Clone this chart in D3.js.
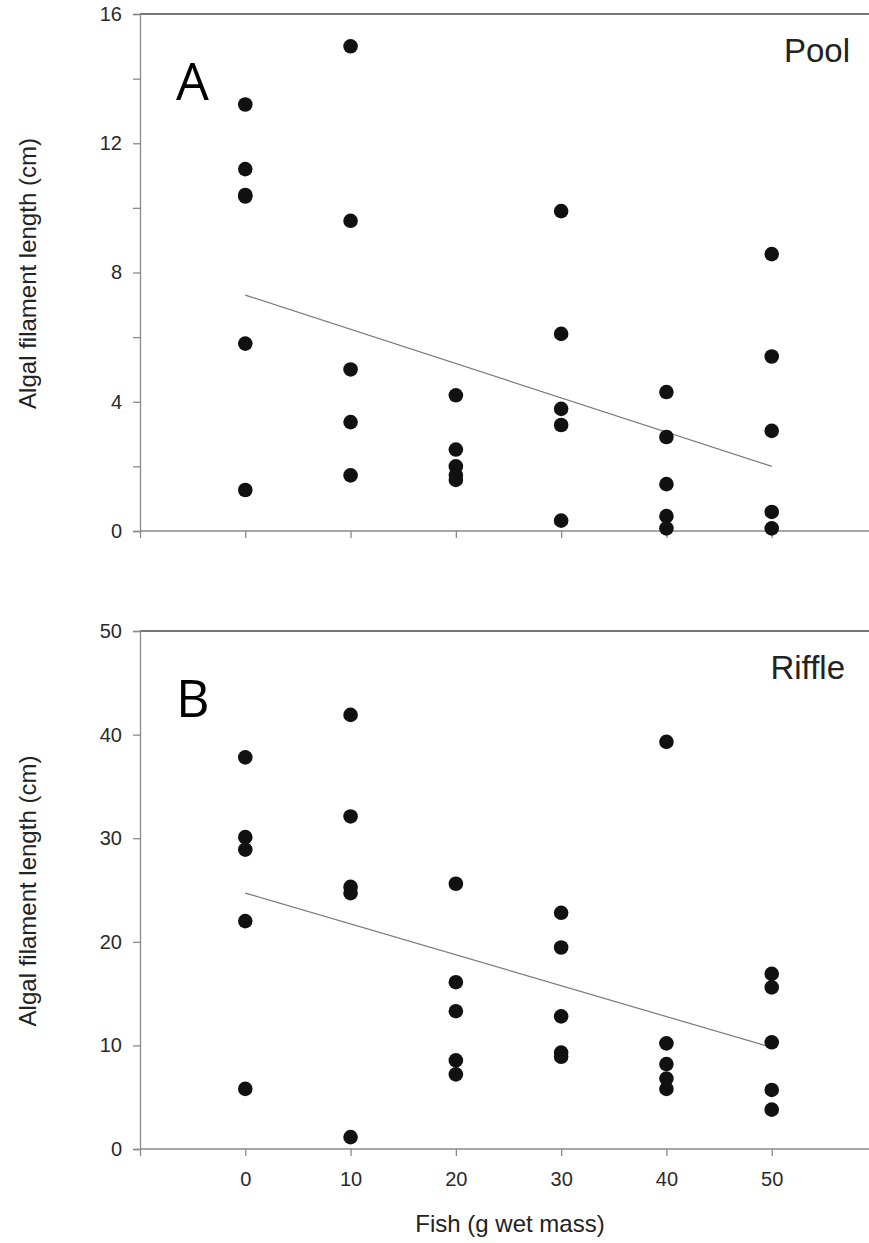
<!DOCTYPE html>
<html>
<head>
<meta charset="utf-8">
<script src="https://cdn.jsdelivr.net/npm/d3@7"></script>
<style>
    body { margin: 0; background: #fff; }
    svg { display: block; font-family: "Liberation Sans", Arial, sans-serif; }
</style>
</head>
<body>
<svg id="chart" width="869" height="1243"></svg>
<script>
let fishLevels = [0, 10, 20, 30, 40, 50];

// panel A, pool
let poolX = [0, 0, 0, 0, 0, 0,
    10, 10, 10, 10, 10,
    20, 20, 20, 20, 20,
    30, 30, 30, 30, 30,
    40, 40, 40, 40, 40,
    50, 50, 50, 50, 50];
let poolY = [13.2, 11.2, 10.4, 10.35, 5.8, 1.27,
    15.0, 9.6, 5.0, 3.37, 1.72,
    4.2, 2.52, 2.0, 1.73, 1.58,
    9.9, 6.1, 3.78, 3.28, 0.32,
    4.3, 2.91, 1.45, 0.46, 0.08,
    8.57, 5.4, 3.1, 0.59, 0.08];
let poolFit = [7.3, 2.0];

// panel B, riffle
let riffleX = [0, 0, 0, 0, 0,
    10, 10, 10, 10, 10,
    20, 20, 20, 20, 20,
    30, 30, 30, 30, 30,
    40, 40, 40, 40, 40,
    50, 50, 50, 50, 50];
let riffleY = [37.8, 30.1, 28.9, 22.0, 5.8,
    41.9, 32.1, 25.3, 24.7, 1.15,
    25.6, 16.1, 13.3, 8.55, 7.2,
    22.8, 19.45, 12.8, 9.3, 8.9,
    39.3, 10.2, 8.2, 6.8, 5.8,
    16.9, 15.6, 10.3, 5.7, 3.8];
let riffleFit = [24.7, 9.8];

let poolTicks = [0, 4, 8, 12, 16];
let poolMinor = [2, 6, 10, 14];
let riffleTicks = [0, 10, 20, 30, 40, 50];

let svg = d3.select('#chart');
let axisGrey = '#8a8a8a';
let x = d3.scaleLinear().domain([-10, 60]).range([140, 877]);

function panel(opts) {
    let y = d3.scaleLinear().domain(opts.domain).range([opts.bottom, opts.top]);
    let g = svg.append('g');

    // frame top
    g.append('line')
        .attr('x1', x(-10)).attr('x2', 869)
        .attr('y1', y(opts.domain[1])).attr('y2', y(opts.domain[1]))
        .attr('stroke', '#4a4a4a').attr('stroke-width', 1.3);

    let xAxis = g.append('g')
        .attr('transform', `translate(0,${opts.bottom})`)
        .call(d3.axisBottom(x).tickValues([-10].concat(fishLevels)).tickSize(7).tickPadding(16)
            .tickFormat(d => opts.xLabels && d >= 0 ? d : ''));
    xAxis.select('.domain').attr('d', `M${x(-10)},0H869`);

    let yAxis = g.append('g')
        .attr('transform', `translate(${x(-10)},0)`)
        .call(d3.axisLeft(y).tickValues(opts.ticks.concat(opts.minor)).tickSize(7).tickPadding(11)
            .tickFormat(d => opts.ticks.includes(d) ? d : ''));

    [xAxis, yAxis].forEach(a => {
        a.selectAll('.domain, line').attr('stroke', axisGrey).attr('stroke-width', 1.3);
        a.selectAll('text').attr('fill', '#2a2a2a').attr('font-size', 20)
            .attr('font-family', '"Liberation Sans", Arial, sans-serif');
    });

    g.append('line')
        .attr('x1', x(0)).attr('y1', y(opts.fit[0]))
        .attr('x2', x(50)).attr('y2', y(opts.fit[1]))
        .attr('stroke', '#7a7a7a').attr('stroke-width', 1.2);

    g.selectAll('circle')
        .data(opts.xs.map((v, i) => [v, opts.ys[i]]))
        .enter().append('circle')
        .attr('cx', d => x(d[0]))
        .attr('cy', d => y(d[1]))
        .attr('r', 7.3)
        .attr('fill', '#111');

    g.append('text')
        .attr('x', 176).attr('y', opts.top + 86)
        .attr('font-family', '"Open Sans", sans-serif')
        .attr('font-size', 52)
        .attr('fill', '#000')
        .text(opts.letter);

    g.append('text')
        .attr('x', opts.nameRight).attr('y', opts.top + 48)
        .attr('text-anchor', 'end')
        .attr('font-size', 33)
        .attr('fill', '#222')
        .text(opts.name);

    g.append('text')
        .attr('transform', `translate(36,${(opts.top + opts.bottom) / 2 + 1}) rotate(-90)`)
        .attr('text-anchor', 'middle')
        .attr('font-size', 24)
        .attr('fill', '#222')
        .text('Algal filament length (cm)');
}

panel({
    domain: [0, 16], top: 14, bottom: 531,
    ticks: poolTicks, minor: poolMinor,
    xs: poolX, ys: poolY, fit: poolFit,
    letter: 'A', name: 'Pool', nameRight: 850, xLabels: false
});

panel({
    domain: [0, 50], top: 631, bottom: 1149,
    ticks: riffleTicks, minor: [],
    xs: riffleX, ys: riffleY, fit: riffleFit,
    letter: 'B', name: 'Riffle', nameRight: 845, xLabels: true
});

svg.append('text')
    .attr('x', 510).attr('y', 1232)
    .attr('text-anchor', 'middle')
    .attr('font-size', 24)
    .attr('fill', '#222')
    .text('Fish (g wet mass)');
</script>
</body>
</html>
